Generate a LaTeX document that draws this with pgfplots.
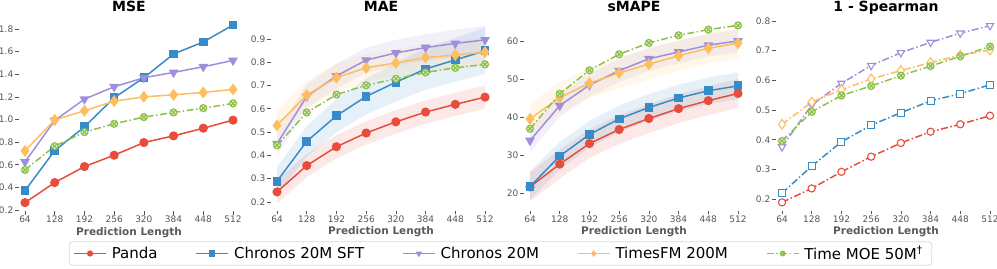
\documentclass[border=0pt]{standalone}
\usepackage{fontspec}
\setmainfont{DejaVu Sans}
\usepackage{pgfplots}
\pgfplotsset{compat=1.18}
\definecolor{pandared}{RGB}{231,76,60}
\definecolor{sftblue}{RGB}{55,140,200}
\definecolor{chpurple}{RGB}{157,143,222}
\definecolor{tforange}{RGB}{254,190,95}
\definecolor{moegreen}{RGB}{141,193,73}
\definecolor{tickgray}{RGB}{85,85,85}
\definecolor{labgray}{RGB}{90,90,90}
\pgfplotsset{
  every axis title shift=0pt,
  panel/.style={
    width=221bp, height=193bp, scale only axis, anchor=south west,
    xmin=50, xmax=526, xtick={64,128,192,256,320,384,448,512},
    axis line style={draw=none},
    tick align=outside, tickpos=left,
    major tick length=3.5bp, tick style={tickgray, line width=0.7bp},
    ticklabel style={font=\fontsize{9bp}{10bp}\selectfont, text=tickgray},
    yticklabel style={inner xsep=1.5bp},
    xticklabel style={inner ysep=1.5bp},
    /pgf/number format/assume math mode=true,
    scaled y ticks=false,
    xlabel={Prediction Length},
    xlabel style={font=\fontsize{10.5bp}{12bp}\selectfont\bfseries, text=labgray, at={(0.5,0)}, anchor=base, yshift=-24bp},
    title style={font=\fontsize{14bp}{16bp}\selectfont\bfseries, at={(0.5,1)}, anchor=base, yshift=6bp, inner sep=0pt},
    clip=false,
    every axis plot/.append style={line width=1.5bp},
  },
  dd/.style={dash pattern=on 7bp off 2.5bp on 1.5bp off 2.5bp},
  pa/.style={pandared, mark=*, mark size=3.8bp},
  sf/.style={sftblue, mark=square*, mark size=3.6bp},
  ch/.style={chpurple, mark=triangle*, mark size=4.2bp, mark options={rotate=180}},
  tf/.style={tforange, mark=diamond*, mark size=4.8bp},
  mo/.style={moegreen, dd, mark=otimes*, mark size=3.5bp, mark options={solid, fill=moegreen!22!white, line width=1.2bp}},
  band/.style={draw=none, fill=#1, fill opacity=0.13, forget plot},
}
\begin{document}
\begin{tikzpicture}
\path[use as bounding box] (0,0) rectangle (997bp,269bp);
% ---------------- MSE
\begin{axis}[panel, at={(18.5bp,58bp)}, ymin=0.191, ymax=1.897,
  ytick={0.2,0.4,0.6,0.8,1.0,1.2,1.4,1.6,1.8},
  yticklabel style={/pgf/number format/.cd, fixed, fixed zerofill, precision=1},
  title={MSE},
  legend columns=5,
  legend style={at={(2.181,-0.2202)}, anchor=center, draw=black!15, line width=0.8bp, rounded corners=3bp,
    font=\fontsize{15bp}{17bp}\selectfont, inner xsep=4bp, inner ysep=2bp,
    /tikz/every even column/.append style={column sep=33bp},
    nodes={inner xsep=5bp, inner ysep=2.5bp}},
  legend image code/.code={\draw[mark repeat=2,mark phase=2,#1,mark size=2.3bp] plot coordinates {(0bp,0bp) (16bp,0bp) (32bp,0bp)};},
]
\addplot[pa] coordinates {(64,0.265)(128,0.442)(192,0.584)(256,0.684)(320,0.796)(384,0.855)(448,0.923)(512,0.994)};
\addlegendentry{Panda}
\addplot[sf] coordinates {(64,0.371)(128,0.725)(192,0.935)(256,1.192)(320,1.369)(384,1.579)(448,1.685)(512,1.835)};
\addlegendentry{Chronos 20M SFT}
\addplot[ch] coordinates {(64,0.625)(128,0.991)(192,1.180)(256,1.289)(320,1.369)(384,1.416)(448,1.466)(512,1.522)};
\addlegendentry{Chronos 20M}
\addplot[tf] coordinates {(64,0.722)(128,0.997)(192,1.077)(256,1.162)(320,1.200)(384,1.218)(448,1.239)(512,1.266)};
\addlegendentry{TimesFM 200M}
\addplot[mo] coordinates {(64,0.554)(128,0.764)(192,0.888)(256,0.962)(320,1.021)(384,1.062)(448,1.100)(512,1.142)};
\addlegendentry{Time MOE 50M\textsuperscript{†}}
\end{axis}
% ---------------- MAE
\begin{axis}[panel, at={(270.5bp,58bp)}, ymin=0.161, ymax=0.99,
  ytick={0.2,0.3,0.4,0.5,0.6,0.7,0.8,0.9},
  yticklabel style={/pgf/number format/.cd, fixed, fixed zerofill, precision=1},
  title={MAE}]
\addplot[band=pandared] coordinates {(64,0.293)(128,0.406)(192,0.487)(256,0.546)(320,0.594)(384,0.636)(448,0.669)(512,0.700)(512,0.600)(448,0.569)(384,0.536)(320,0.494)(256,0.446)(192,0.387)(128,0.306)(64,0.193)} -- cycle;
\addplot[band=sftblue] coordinates {(64,0.349)(128,0.526)(192,0.641)(256,0.730)(320,0.797)(384,0.860)(448,0.904)(512,0.949)(512,0.749)(448,0.716)(384,0.682)(320,0.631)(256,0.576)(192,0.499)(128,0.394)(64,0.229)} -- cycle;
\addplot[band=chpurple] coordinates {(64,0.500)(128,0.704)(192,0.794)(256,0.863)(320,0.896)(384,0.920)(448,0.940)(512,0.956)(512,0.836)(448,0.822)(384,0.806)(320,0.784)(256,0.755)(192,0.688)(128,0.602)(64,0.400)} -- cycle;
\addplot[band=tforange] coordinates {(64,0.589)(128,0.719)(192,0.794)(256,0.836)(320,0.857)(384,0.880)(448,0.891)(512,0.903)(512,0.783)(448,0.771)(384,0.760)(320,0.737)(256,0.716)(192,0.674)(128,0.599)(64,0.469)} -- cycle;
\addplot[pa] coordinates {(64,0.243)(128,0.356)(192,0.437)(256,0.496)(320,0.544)(384,0.586)(448,0.619)(512,0.650)};
\addplot[sf] coordinates {(64,0.289)(128,0.460)(192,0.570)(256,0.653)(320,0.714)(384,0.771)(448,0.810)(512,0.849)};
\addplot[ch] coordinates {(64,0.450)(128,0.653)(192,0.741)(256,0.809)(320,0.840)(384,0.863)(448,0.881)(512,0.896)};
\addplot[tf] coordinates {(64,0.529)(128,0.659)(192,0.734)(256,0.776)(320,0.797)(384,0.820)(448,0.831)(512,0.843)};
\addplot[mo] coordinates {(64,0.443)(128,0.584)(192,0.661)(256,0.701)(320,0.729)(384,0.756)(448,0.776)(512,0.791)};
\end{axis}
% ---------------- sMAPE
\begin{axis}[panel, at={(523.5bp,58bp)}, ymin=15.26, ymax=66.05,
  ytick={20,30,40,50,60},
  title={sMAPE}]
\addplot[band=pandared] coordinates {(64,25.4)(128,31.4)(192,36.8)(256,40.5)(320,43.4)(384,46.0)(448,48.1)(512,50.0)(512,42.4)(448,40.5)(384,38.4)(320,35.8)(256,32.9)(192,29.2)(128,23.8)(64,17.8)} -- cycle;
\addplot[band=sftblue] coordinates {(64,25.7)(128,33.4)(192,39.0)(256,43.0)(320,46.0)(384,48.5)(448,50.4)(512,51.7)(512,44.7)(448,43.4)(384,41.5)(320,39.0)(256,36.0)(192,31.9)(128,26.2)(64,18.2)} -- cycle;
\addplot[band=chpurple] coordinates {(64,36.8)(128,46.0)(192,51.4)(256,55.2)(320,58.3)(384,60.1)(448,61.9)(512,63.0)(512,57.0)(448,55.9)(384,54.1)(320,52.3)(256,49.2)(192,45.4)(128,40.0)(64,30.8)} -- cycle;
\addplot[band=tforange] coordinates {(64,43.5)(128,49.1)(192,52.9)(256,55.6)(320,57.9)(384,60.1)(448,62.1)(512,63.4)(512,55.4)(448,54.1)(384,52.1)(320,49.9)(256,47.6)(192,44.9)(128,41.1)(64,35.5)} -- cycle;
\addplot[pa] coordinates {(64,21.6)(128,27.6)(192,33.0)(256,36.7)(320,39.6)(384,42.2)(448,44.3)(512,46.2)};
\addplot[sf] coordinates {(64,21.7)(128,29.7)(192,35.4)(256,39.5)(320,42.5)(384,45.0)(448,46.9)(512,48.2)};
\addplot[ch] coordinates {(64,33.8)(128,43.0)(192,48.4)(256,52.2)(320,55.3)(384,57.1)(448,58.9)(512,60.0)};
\addplot[tf] coordinates {(64,39.5)(128,45.1)(192,48.9)(256,51.6)(320,53.9)(384,56.1)(448,58.1)(512,59.4)};
\addplot[mo] coordinates {(64,36.9)(128,46.1)(192,52.3)(256,56.5)(320,59.5)(384,61.5)(448,63.0)(512,64.1)};
\end{axis}
% ---------------- 1 - Spearman
\begin{axis}[panel, at={(775.5bp,58bp)}, ymin=0.16, ymax=0.81,
  ytick={0.2,0.3,0.4,0.5,0.6,0.7,0.8},
  yticklabel style={/pgf/number format/.cd, fixed, fixed zerofill, precision=1},
  title={1 - Spearman}]
\addplot[pandared, dd, mark=*, mark size=3.6bp, mark options={solid, fill=white, line width=1.1bp}] coordinates {(64,0.189)(128,0.236)(192,0.292)(256,0.343)(320,0.389)(384,0.427)(448,0.452)(512,0.481)};
\addplot[sftblue, dd, mark=square*, mark size=3.5bp, mark options={solid, fill=white, line width=1.1bp}] coordinates {(64,0.220)(128,0.311)(192,0.393)(256,0.449)(320,0.491)(384,0.531)(448,0.555)(512,0.585)};
\addplot[chpurple, dd, mark=triangle*, mark size=4.2bp, mark options={solid, fill=white, rotate=180, line width=1.1bp}] coordinates {(64,0.376)(128,0.517)(192,0.590)(256,0.650)(320,0.693)(384,0.728)(448,0.759)(512,0.784)};
\addplot[tforange, dd, mark=diamond*, mark size=4.8bp, mark options={solid, fill=white, line width=1.1bp}] coordinates {(64,0.452)(128,0.527)(192,0.568)(256,0.605)(320,0.633)(384,0.660)(448,0.685)(512,0.702)};
\addplot[mo] coordinates {(64,0.396)(128,0.494)(192,0.549)(256,0.581)(320,0.616)(384,0.648)(448,0.681)(512,0.714)};
\end{axis}
\end{tikzpicture}
\end{document}
